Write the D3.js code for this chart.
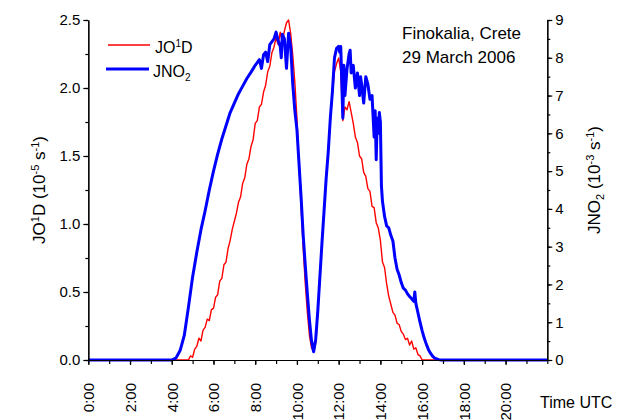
<!DOCTYPE html>
<html><head><meta charset="utf-8">
<script src="https://cdn.jsdelivr.net/npm/d3@7"></script>
<style>
body{margin:0;background:#fff;}
svg{display:block;font-family:Arial,"Liberation Sans",sans-serif;}
</style></head>
<body>
<svg id="chart" width="627" height="420"></svg>
<script>
// ---- data ----
const timeTicks = [0,2,4,6,8,10,12,14,16,18,20];
const timeTickLabels = ["0:00","2:00","4:00","6:00","8:00","10:00","12:00","14:00","16:00","18:00","20:00"];
const leftTicks = [0,0.5,1.0,1.5,2.0,2.5];
const rightTicks = [0,1,2,3,4,5,6,7,8,9];

// JO1D (10^-5 s^-1): [hour UTC, value]
const jo1d = [
 [0,0],[4.8,0],[4.9,0.03],[5.0,0.02],[5.1,0.08],[5.2,0.10],[5.3,0.16],[5.4,0.14],[5.5,0.22],[5.6,0.24],[5.7,0.30],
 [5.8,0.29],[5.9,0.37],[6.0,0.38],[6.1,0.46],[6.2,0.48],[6.3,0.58],[6.4,0.60],[6.5,0.70],[6.6,0.72],[6.7,0.82],
 [6.8,0.88],[6.9,0.96],[7.0,1.02],[7.1,1.08],[7.2,1.16],[7.3,1.20],[7.4,1.30],[7.5,1.34],[7.6,1.44],[7.7,1.48],
 [7.8,1.57],[7.9,1.62],[8.0,1.74],[8.1,1.76],[8.2,1.86],[8.3,1.88],[8.4,1.97],[8.5,2.02],[8.6,2.12],[8.7,2.16],
 [8.8,2.26],[8.9,2.30],[9.0,2.37],[9.1,2.32],[9.2,2.41],[9.3,2.34],[9.4,2.42],[9.5,2.48],[9.6,2.50],[9.7,2.40],
 [9.8,2.24],[9.9,2.04],[10.0,1.78],[10.1,1.44],[10.2,1.12],[10.3,0.82],[10.4,0.56],[10.5,0.35],[10.6,0.18],[10.7,0.09],
 [10.8,0.06],[10.9,0.12],[11.0,0.34],[11.1,0.60],[11.2,0.86],[11.3,1.10],[11.4,1.34],[11.5,1.54],[11.6,1.76],[11.7,1.96],
 [11.8,2.12],[11.9,2.18],[12.0,2.22],[12.1,2.12],[12.2,1.76],[12.3,1.86],[12.4,1.84],[12.5,1.90],[12.6,1.82],[12.7,1.74],
 [12.8,1.64],[12.9,1.60],[13.0,1.50],[13.1,1.48],[13.2,1.38],[13.3,1.35],[13.4,1.26],[13.5,1.24],[13.6,1.13],[13.7,1.12],
 [13.8,1.01],[13.9,0.97],[14.0,0.88],[14.1,0.72],[14.2,0.68],[14.3,0.56],[14.4,0.47],[14.5,0.41],[14.6,0.35],[14.7,0.33],
 [14.8,0.27],[14.9,0.26],[15.0,0.21],[15.1,0.19],[15.2,0.15],[15.3,0.16],[15.4,0.11],[15.5,0.14],[15.6,0.08],[15.7,0.09],
 [15.8,0.04],[15.9,0.03],[16.0,0],[22,0]
];

// JNO2 (10^-3 s^-1): [hour UTC, value]
const jno2 = [
 [0,0],[4.0,0],[4.2,0.05],[4.4,0.25],[4.6,0.65],[4.8,1.40],[5.0,2.20],[5.2,2.85],[5.4,3.45],[5.6,3.95],[5.8,4.50],
 [6.0,5.00],[6.2,5.45],[6.4,5.85],[6.6,6.20],[6.8,6.55],[7.0,6.80],[7.2,7.05],[7.4,7.25],[7.6,7.45],[7.8,7.62],
 [8.0,7.80],[8.2,7.95],[8.3,7.72],[8.4,8.08],[8.5,8.15],[8.6,7.90],[8.7,8.35],[8.9,8.50],[9.0,8.68],[9.1,8.45],
 [9.2,8.30],[9.25,8.00],[9.3,8.62],[9.4,8.50],[9.5,7.72],[9.6,8.65],[9.7,8.30],[9.8,7.30],[9.9,6.60],[10.0,6.10],
 [10.1,5.20],[10.2,4.30],[10.3,3.30],[10.4,2.50],[10.5,1.75],[10.6,1.05],[10.7,0.50],[10.8,0.22],[10.9,0.55],[11.0,1.30],
 [11.1,2.20],[11.2,3.10],[11.3,3.95],[11.4,4.80],[11.5,5.50],[11.6,6.40],[11.7,7.10],[11.8,8.00],[11.9,8.25],[12.0,8.30],
 [12.05,8.15],[12.1,8.30],[12.2,6.40],[12.25,7.80],[12.3,7.00],[12.4,7.70],[12.5,8.10],[12.55,8.20],[12.6,7.60],[12.7,7.80],
 [12.8,7.20],[12.9,7.60],[13.0,7.00],[13.05,7.50],[13.1,7.30],[13.2,6.80],[13.3,7.50],[13.4,7.30],[13.5,6.90],[13.6,7.00],
 [13.7,5.90],[13.75,6.60],[13.8,5.30],[13.85,6.40],[13.9,6.00],[13.95,6.55],[14.0,6.30],[14.05,4.60],[14.1,4.20],[14.2,3.80],
 [14.3,3.55],[14.4,3.50],[14.5,3.30],[14.6,3.15],[14.7,2.70],[14.8,2.40],[14.9,2.25],[15.0,2.05],[15.1,1.90],[15.2,1.85],
 [15.3,1.75],[15.4,1.68],[15.5,1.62],[15.6,1.55],[15.65,1.80],[15.7,1.50],[15.8,1.25],[15.9,1.00],[16.0,0.78],[16.1,0.58],
 [16.2,0.42],[16.3,0.28],[16.4,0.18],[16.5,0.10],[16.6,0.05],[16.8,0.01],[16.9,0],[22,0]
];

// ---- drawing ----
const svg = d3.select("#chart");
const x = d3.scaleLinear().domain([0,22]).range([88.3,547.3]);
const yL = d3.scaleLinear().domain([0,2.5]).range([360,20]);
const yR = d3.scaleLinear().domain([0,9]).range([360,20]);
const FS = 15;

// lines
const lineL = d3.line().x(d=>x(d[0])).y(d=>yL(d[1]));
const lineR = d3.line().x(d=>x(d[0])).y(d=>yR(d[1]));
svg.append("path").datum(jo1d).attr("d",lineL).attr("fill","none").attr("stroke","#ff0000").attr("stroke-width",1.4).attr("stroke-linejoin","round");
svg.append("path").datum(jno2).attr("d",lineR).attr("fill","none").attr("stroke","#0000ff").attr("stroke-width",3).attr("stroke-linejoin","round");

function styleAxis(g){
  g.selectAll("path,line").attr("stroke","#000").attr("stroke-width",1.2);
  g.selectAll("text").attr("fill","#000").style("font-size",FS+"px").style("font-family","Arial, 'Liberation Sans', sans-serif");
}

// minor ticks
const minorL = d3.range(0,2.51,0.25);
svg.append("g").attr("transform","translate("+x(0)+",0)")
  .call(d3.axisLeft(yL).tickValues(minorL).tickSize(3).tickFormat("").tickSizeOuter(0)).call(styleAxis);
svg.append("g").attr("transform","translate("+x(0)+",0)")
  .call(d3.axisLeft(yL).tickValues(leftTicks).tickSize(5).tickPadding(3).tickFormat(d3.format(".1f")).tickSizeOuter(0)).call(styleAxis);

const minorR = d3.range(0,9.01,0.5);
svg.append("g").attr("transform","translate("+x(22)+",0)")
  .call(d3.axisRight(yR).tickValues(minorR).tickSize(3).tickFormat("").tickSizeOuter(0)).call(styleAxis);
svg.append("g").attr("transform","translate("+x(22)+",0)")
  .call(d3.axisRight(yR).tickValues(rightTicks).tickSize(5).tickPadding(3).tickFormat(d3.format("d")).tickSizeOuter(0)).call(styleAxis);

const minorX = d3.range(0,22.01,1);
svg.append("g").attr("transform","translate(0,"+yL(0)+")")
  .call(d3.axisBottom(x).tickValues(minorX).tickSize(4).tickFormat("").tickSizeOuter(0)).call(styleAxis);
const xg = svg.append("g").attr("transform","translate(0,"+yL(0)+")")
  .call(d3.axisBottom(x).tickValues(timeTicks).tickSize(5).tickFormat((d,i)=>timeTickLabels[i]).tickSizeOuter(0)).call(styleAxis);
xg.selectAll("text").attr("transform","rotate(-90)").attr("x",-23).attr("y",0).attr("dy","0.35em").style("text-anchor","end");

// axis titles
const lt = svg.append("text").attr("transform","translate(45,190) rotate(-90)").attr("text-anchor","middle").style("font-size","17px");
lt.append("tspan").text("JO");
lt.append("tspan").attr("dy",-6).style("font-size","11px").text("1");
lt.append("tspan").attr("dy",6).text("D (10");
lt.append("tspan").attr("dy",-6).style("font-size","11px").text("-5");
lt.append("tspan").attr("dy",6).text(" s");
lt.append("tspan").attr("dy",-6).style("font-size","11px").text("-1");
lt.append("tspan").attr("dy",6).text(")");

const rt = svg.append("text").attr("transform","translate(600,180) rotate(-90)").attr("text-anchor","middle").style("font-size","17px");
rt.append("tspan").text("JNO");
rt.append("tspan").attr("dy",4).style("font-size","11px").text("2");
rt.append("tspan").attr("dy",-4).text(" (10");
rt.append("tspan").attr("dy",-6).style("font-size","11px").text("-3");
rt.append("tspan").attr("dy",6).text(" s");
rt.append("tspan").attr("dy",-6).style("font-size","11px").text("-1");
rt.append("tspan").attr("dy",6).text(")");

svg.append("text").attr("x",540).attr("y",408).style("font-size","16px").text("Time UTC");

// legend
svg.append("line").attr("x1",108).attr("x2",150).attr("y1",45).attr("y2",45).attr("stroke","#ff0000").attr("stroke-width",1.4);
svg.append("line").attr("x1",106).attr("x2",149).attr("y1",69).attr("y2",69).attr("stroke","#0000ff").attr("stroke-width",3);
const l1 = svg.append("text").attr("x",155).attr("y",53).style("font-size","16px");
l1.append("tspan").text("JO");
l1.append("tspan").attr("dy",-6).style("font-size","10px").text("1");
l1.append("tspan").attr("dy",6).text("D");
const l2 = svg.append("text").attr("x",153).attr("y",77).style("font-size","16px");
l2.append("tspan").text("JNO");
l2.append("tspan").attr("dy",4).style("font-size","10px").text("2");

// annotation
svg.append("text").attr("x",402).attr("y",39).style("font-size","17px").text("Finokalia, Crete");
svg.append("text").attr("x",402).attr("y",63).style("font-size","17px").text("29 March 2006");
</script>
</body></html>
